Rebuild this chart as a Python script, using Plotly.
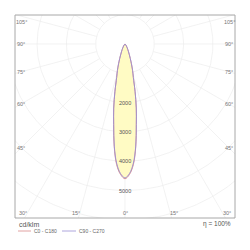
import numpy as np
import plotly.graph_objects as go

# ---- data (cd/klm) ----
gamma = [0, 2, 4, 6, 8, 10, 12, 14, 16, 18, 20, 22, 25, 30, 35, 40, 50, 60, 70, 80, 90]
c0_c180 = [4600, 4450, 4120, 3520, 2780, 2220, 1650, 1180, 940, 710, 530, 400, 270, 150, 85, 45, 15, 5, 2, 0, 0]
c90_c270 = [4570, 4420, 4080, 3500, 2770, 2215, 1650, 1180, 940, 710, 530, 400, 270, 150, 85, 45, 15, 5, 2, 0, 0]
ring_values = [1000, 2000, 3000, 4000, 5000, 6000, 7000, 8000]
ring_labels = [2000, 3000, 4000, 5000]
side_angles = [105, 90, 75, 60, 45]
bottom_angles = [30, 15, 0]
series_names = ["C0 - C180", "C90 - C270"]
series_colors = ["#d98a8a", "#9a90d4"]
unit_label = "cd/klm"
eff_label = "η = 100%"

# ---- geometry ----
W = H = 250
ML, MR, MT, MB = 15, 15, 15, 32
CX, CY = 125, 44          # polar origin in pixels
PX = 29.3                  # pixels per 1000 cd/klm
U = 1000.0 / PX            # data units per pixel
xr = [(ML - CX) * U, (W - MR - CX) * U]
yr = [-(H - MB - CY) * U, (CY - MT) * U]
FONT = "Liberation Sans"

def paper_x(px):
    return (px - ML) / (W - ML - MR)

def paper_y(py):
    return (H - MB - py) / (H - MT - MB)

def polar_xy(g_deg, r):
    g = np.radians(np.asarray(g_deg, dtype=float))
    r = np.asarray(r, dtype=float)
    return r * np.sin(g), -r * np.cos(g)

fig = go.Figure()
grid_col = "#ececec"

# rings
t = np.linspace(0, 360, 361)
for rv in ring_values:
    x, y = polar_xy(t, np.full_like(t, rv))
    fig.add_trace(go.Scatter(x=x, y=y, mode="lines", line=dict(color=grid_col, width=0.7),
                             hoverinfo="skip", showlegend=False))
# radial lines
for a in range(-180, 181, 15):
    x, y = polar_xy([a, a], [ring_values[0], 12000])
    fig.add_trace(go.Scatter(x=x, y=y, mode="lines", line=dict(color=grid_col, width=0.7),
                             hoverinfo="skip", showlegend=False))

def full_curve(vals):
    g = [-v for v in gamma[::-1]] + gamma[1:]
    r = vals[::-1] + vals[1:]
    return polar_xy(g, r)

# fill
for vals in [c0_c180, c90_c270]:
    x, y = full_curve(vals)
    fig.add_trace(go.Scatter(x=x, y=y, mode="lines", fill="toself", fillcolor="#fffbc4",
                             line=dict(color="rgba(0,0,0,0)", width=0, shape="spline"),
                             hoverinfo="skip", showlegend=False))
# outlines
for vals, col in [(c0_c180, series_colors[0]), (c90_c270, series_colors[1])]:
    x, y = full_curve(vals)
    fig.add_trace(go.Scatter(x=x, y=y, mode="lines", line=dict(color=col, width=0.9, shape="spline"),
                             hoverinfo="skip", showlegend=False))

ann = []
# intensity labels
for v in ring_labels:
    ann.append(dict(x=0, y=-v, xref="x", yref="y", text=str(v), showarrow=False,
                    font=dict(family=FONT, size=5.5, color="#555"), xanchor="center", yanchor="middle"))

# side angle labels
lab_font = dict(family=FONT, size=5.5, color="#777")
for a in side_angles:
    for side in (-1, 1):
        xpx = 21 if side < 0 else 229
        dx = (xpx - CX)
        g = np.radians(a)
        dy = abs(dx) * np.cos(g) / np.sin(g)   # downward pixels
        ypx = max(CY + dy, 22)
        ann.append(dict(x=paper_x(xpx), y=paper_y(ypx), xref="paper", yref="paper",
                        text=f"{a}°", showarrow=False, font=lab_font,
                        xanchor="center", yanchor="middle"))
# bottom angle labels
for a in bottom_angles:
    sides = (-1, 1) if a else (1,)
    for side in sides:
        ypx = 213
        dx = (ypx - CY) * np.tan(np.radians(a))
        xpx = CX + side * (dx + (4 if a else 0))
        ann.append(dict(x=paper_x(xpx), y=paper_y(ypx), xref="paper", yref="paper",
                        text=f"{a}°", showarrow=False, font=lab_font,
                        xanchor="center", yanchor="middle"))

# unit + efficiency
ann.append(dict(x=paper_x(17), y=paper_y(224), xref="paper", yref="paper", text=unit_label,
                showarrow=False, font=dict(family=FONT, size=7, color="#555"),
                xanchor="left", yanchor="middle"))
ann.append(dict(x=paper_x(233), y=paper_y(224), xref="paper", yref="paper", text=eff_label,
                showarrow=False, font=dict(family=FONT, size=6.5, color="#555"),
                xanchor="right", yanchor="middle"))

# legend
shapes = [dict(type="rect", xref="paper", yref="paper", x0=0, x1=1, y0=0, y1=1,
               line=dict(color="#a8a8a8", width=1))]
leg_pos = [(18, 31, 32), (62, 76, 77)]
for (x0, x1, xt), name, col in zip(leg_pos, series_names, series_colors):
    shapes.append(dict(type="line", xref="paper", yref="paper", x0=paper_x(x0), x1=paper_x(x1),
                       y0=paper_y(231), y1=paper_y(231), line=dict(color=col, width=0.8)))
    ann.append(dict(x=paper_x(xt), y=paper_y(231), xref="paper", yref="paper", text=name,
                    showarrow=False, font=dict(family=FONT, size=5, color="#666"),
                    xanchor="left", yanchor="middle"))

fig.update_layout(
    width=W, height=H, margin=dict(l=ML, r=MR, t=MT, b=MB),
    paper_bgcolor="white", plot_bgcolor="white",
    xaxis=dict(range=xr, visible=False, fixedrange=True),
    yaxis=dict(range=yr, visible=False, fixedrange=True),
    annotations=ann, shapes=shapes, showlegend=False,
)
fig.write_html("out.html")
